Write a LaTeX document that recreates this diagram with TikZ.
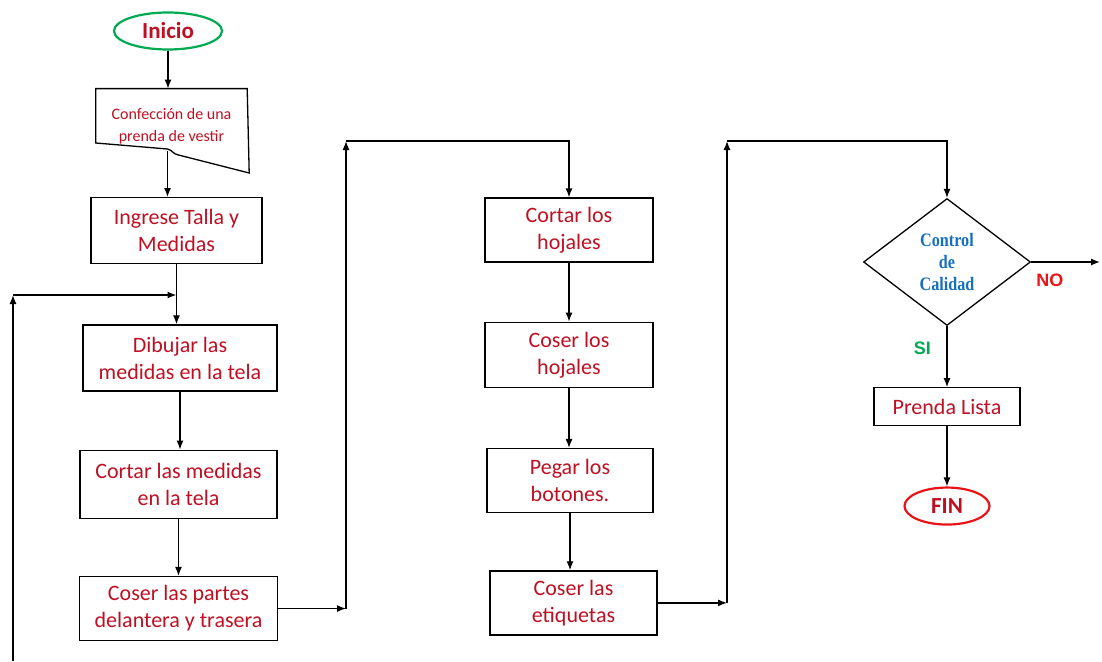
\documentclass[tikz,border=0pt]{standalone}
\usepackage{fontspec}
\setmainfont{Carlito}
\newfontfamily\ctrlfont[FakeStretch=0.85]{Liberation Serif}
\newfontfamily\lblfont{Liberation Sans}
\usetikzlibrary{positioning, shapes.geometric, arrows.meta, calc}

\definecolor{txtred}{RGB}{190,16,34}
\definecolor{okgreen}{RGB}{0,170,80}
\definecolor{finred}{RGB}{232,20,24}
\definecolor{ctrlblue}{RGB}{22,112,190}

\tikzset{
    arr/.style = {-{Latex[length=9pt,width=7pt]}, line width=1.3pt},
    proc/.style = {draw, line width=1.3pt, align=center, text=txtred, inner sep=2pt,
        font=\fontsize{22}{27}\selectfont},
    term/.style = {ellipse, draw, line width=2.2pt, text=txtred, inner sep=0pt,
        font=\fontsize{23}{26}\selectfont\bfseries},
    docu/.style = {align=center, text=txtred, inner sep=0pt,
        font=\fontsize{16}{22}\selectfont},
    check/.style = {diamond, draw, line width=1.3pt, align=center, inner sep=0pt,
        text=ctrlblue, font=\fontsize{19}{22}\selectfont\ctrlfont\bfseries},
    branch/.style = {inner sep=0pt, font=\fontsize{18}{20}\selectfont\lblfont\bfseries}
}

\begin{document}
\begin{tikzpicture}[x=1pt, y=-1pt]
        \useasboundingbox (0,0) rectangle (1102,661);
        \node[term, draw=okgreen, minimum width=108pt, minimum height=37pt] (inicio) at (168,31) {Inicio};
        \node[docu, minimum width=151pt, minimum height=74pt, below=38pt of inicio, xshift=3.5pt] (doc) {Confección de una\\prenda de vestir};
        \coordinate (docout) at ($(doc.south)+(-4,-12)$);
        \node[proc, minimum width=171pt, minimum height=66pt, below=34pt of doc, xshift=5pt] (ingrese) {Ingrese Talla y\\Medidas};
        \node[proc, minimum width=194pt, minimum height=66pt, below=60pt of ingrese, xshift=3.5pt] (dibujar) {Dibujar las\\medidas en la tela};
        \node[proc, minimum width=197pt, minimum height=68pt, below=58pt of dibujar, xshift=-1.5pt] (cortarm) {Cortar las medidas\\en la tela};
        \node[proc, minimum width=198pt, minimum height=64pt, below=57pt of cortarm] (coserp) {Coser las partes\\delantera y trasera};
        %---------------------------
        \node[proc, minimum width=168pt, minimum height=64pt] (cortarh) at (569,230) {Cortar los\\hojales};
        \node[proc, minimum width=168pt, minimum height=65pt, below=59pt of cortarh] (coserh) {Coser los\\hojales};
        \node[proc, minimum width=166pt, minimum height=64pt, below=60pt of coserh, xshift=1pt] (pegar) {Pegar los\\botones.};
        \node[proc, minimum width=167pt, minimum height=64pt, below=57pt of pegar, xshift=3.5pt] (etiq) {Coser las\\etiquetas};
        %---------------------------
        \node[check, minimum width=167pt, minimum height=127pt] (ctrl) at (947,262) {Control\\de\\Calidad};
        \node[proc, minimum width=146pt, minimum height=38pt, below=61pt of ctrl] (prenda) {Prenda Lista};
        \node[term, draw=finred, minimum width=85pt, minimum height=37pt, below=60pt of prenda] (fin) {FIN};
        \node[branch, text=finred, below right=12pt and 5pt of ctrl.east] (no) {NO};
        \node[branch, text=okgreen, below left=16pt and 16pt of ctrl.south] (si) {SI};
        %---------------------------
        \draw[line width=1.3pt] (doc.north west) -- (doc.north east) -- ($(doc.south east)+(2,10)$)
            -- ($(doc.south)+(7,-8)$) .. controls ($(doc.south)+(1,-9)$) and ($(doc.south)+(1,-13)$) .. ($(doc.south)+(-4,-14)$)
            -- ($(doc.south west)+(0,-20)$) -- cycle;
        %---------------------------
        \coordinate (loopbot) at (13,661);
        \coordinate (loopup) at (13,295);
        \coordinate (loopin) at (ingrese.south |- loopup);
        \coordinate (up1) at (346,141);
        \coordinate (out1) at (up1 |- coserp.east);
        \coordinate (up2) at (727,141);
        \coordinate (out2) at (up2 |- etiq.east);
        \coordinate (noend) at (1100,262);
        %---------------------------
        \draw[arr] (inicio.south) -- (inicio.south |- doc.north);
        \draw[arr] (docout) -- (docout |- ingrese.north);
        \draw[arr] (ingrese.south) -- (ingrese.south |- dibujar.north);
        \draw[arr] (loopbot) -- (loopup);
        \draw[arr] (loopup) -- (loopin);
        \draw[arr] (dibujar.south) -- (dibujar.south |- cortarm.north);
        \draw[arr] (cortarm.south) -- (coserp.north);
        \draw[arr] (coserp.east) -- (out1);
        \draw[arr] (out1) -- (up1);
        \draw[arr] (up1) -| (cortarh.north);
        \draw[arr] (cortarh.south) -- (coserh.north);
        \draw[arr] (coserh.south) -- (coserh.south |- pegar.north);
        \draw[arr] (pegar.south) -- (pegar.south |- etiq.north);
        \draw[arr] (etiq.east) -- (out2);
        \draw[arr] (out2) -- (up2);
        \draw[arr] (up2) -| (ctrl.north);
        \draw[arr] (ctrl.east) -- (noend);
        \draw[arr] (ctrl.south) -- (prenda.north);
        \draw[arr] (prenda.south) -- (fin.north);
\end{tikzpicture}
\end{document}
